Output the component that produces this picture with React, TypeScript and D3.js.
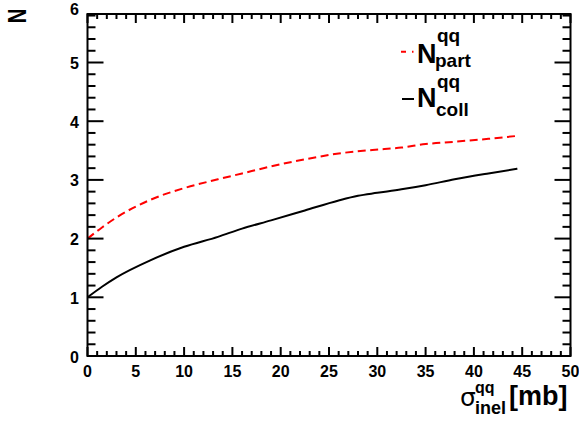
import React from "react";
import * as d3 from "d3";

const sigmaPart = [0, 1.5, 3, 6.5, 10, 13.5, 16, 19, 22.5, 26, 29.5, 32.5, 35, 38, 41.5, 44.5];
const nPart = [2.0, 2.19, 2.36, 2.66, 2.86, 3.01, 3.11, 3.23, 3.35, 3.45, 3.51, 3.55, 3.61, 3.65, 3.7, 3.75];
const sigmaColl = [0, 1.5, 3, 6.5, 10, 13.5, 16, 19, 22.5, 26, 28, 30, 32.5, 35, 38, 41.5, 44.5];
const nColl = [1.0, 1.18, 1.34, 1.63, 1.86, 2.03, 2.17, 2.31, 2.48, 2.65, 2.73, 2.78, 2.84, 2.91, 3.01, 3.11, 3.19];
const xTickLabels = [0, 5, 10, 15, 20, 25, 30, 35, 40, 45, 50];
const yTickLabels = [0, 1, 2, 3, 4, 5, 6];

const FONT = "'Liberation Sans', Arial, Helvetica, sans-serif";

export default function App() {
  const W = 579, H = 428;
  const x0 = 87.5, x1 = 570.5, yTop = 14, yBot = 356;
  const yMax = (yBot - yTop) / 58.7;
  const x = d3.scaleLinear().domain([0, 50]).range([x0, x1]);
  const y = d3.scaleLinear().domain([0, yMax]).range([yBot, yTop]);

  const line = d3.line<[number, number]>().x(d => x(d[0])).y(d => y(d[1])).curve(d3.curveMonotoneX);
  const partPts = sigmaPart.map((s, i) => [s, nPart[i]] as [number, number]);
  const collPts = sigmaColl.map((s, i) => [s, nColl[i]] as [number, number]);

  const xMinor = d3.range(0, 50.001, 1);
  const yMinor = d3.range(0, yMax + 0.001, 0.2);

  const ticks: JSX.Element[] = [];
  xMinor.forEach((v, i) => {
    const major = Math.abs(v % 5) < 1e-6;
    const len = major ? 9 : 5;
    const px = x(v);
    ticks.push(<line key={"xb" + i} x1={px} x2={px} y1={yBot} y2={yBot - len} stroke="#000" strokeWidth={2} />);
    ticks.push(<line key={"xt" + i} x1={px} x2={px} y1={yTop} y2={yTop + len} stroke="#000" strokeWidth={2} />);
  });
  yMinor.forEach((v, i) => {
    const major = Math.abs(v - Math.round(v)) < 1e-6;
    const len = major ? 16 : 8;
    const py = y(v);
    ticks.push(<line key={"yl" + i} x1={x0} x2={x0 + len} y1={py} y2={py} stroke="#000" strokeWidth={2} />);
    ticks.push(<line key={"yr" + i} x1={x1} x2={x1 - len} y1={py} y2={py} stroke="#000" strokeWidth={2} />);
  });

  return (
    <svg width={W} height={H} style={{ position: "absolute", left: 0, top: 0, background: "#fff" }} fontFamily={FONT}>
      <rect x={0} y={0} width={W} height={H} fill="#fff" />
      <path d={line(collPts) || ""} fill="none" stroke="#000" strokeWidth={2} />
      <path d={line(partPts) || ""} fill="none" stroke="#ff0000" strokeWidth={2} strokeDasharray="8,4.5" />
      {ticks}
      <rect x={x0} y={yTop} width={x1 - x0} height={yBot - yTop} fill="none" stroke="#000" strokeWidth={2} />
      {xTickLabels.map(v => (
        <text key={"xl" + v} x={x(v)} y={yBot + 21} textAnchor="middle" fontSize={16} fontWeight="bold">{v}</text>
      ))}
      {yTickLabels.map(v => (
        <text key={"yl" + v} x={79} y={Math.max(y(v) + 6.5, 14.8)} textAnchor="end" fontSize={16} fontWeight="bold">{v}</text>
      ))}
      {/* y title */}
      <text transform="translate(25.5,16) rotate(-90) scale(0.78,1)" textAnchor="middle" fontSize={26} fontWeight="bold">N</text>
      {/* x title */}
      <text x={460} y={406} fontSize={25} fontFamily="'DejaVu Sans', sans-serif">σ</text>
      <text x={475} y={393} fontSize={16} fontWeight="bold">qq</text>
      <text x={475} y={414} fontSize={18} fontWeight="bold">inel</text>
      <text x={509} y={405} fontSize={27} fontWeight="bold">[mb]</text>
      {/* legend */}
      <line x1={401} x2={416} y1={51.7} y2={51.7} stroke="#ff0000" strokeWidth={2} strokeDasharray="5,6,1.5,10" />
      <text x={417} y={63} fontSize={27} fontWeight="bold">N</text>
      <text x={437} y={42} fontSize={19} fontWeight="bold">qq</text>
      <text x={435} y={67} fontSize={19} fontWeight="bold">part</text>
      <line x1={402} x2={414} y1={99} y2={99} stroke="#000" strokeWidth={2} />
      <text x={417} y={107} fontSize={27} fontWeight="bold">N</text>
      <text x={437} y={88} fontSize={19} fontWeight="bold">qq</text>
      <text x={436} y={116} fontSize={19} fontWeight="bold">coll</text>
    </svg>
  );
}
